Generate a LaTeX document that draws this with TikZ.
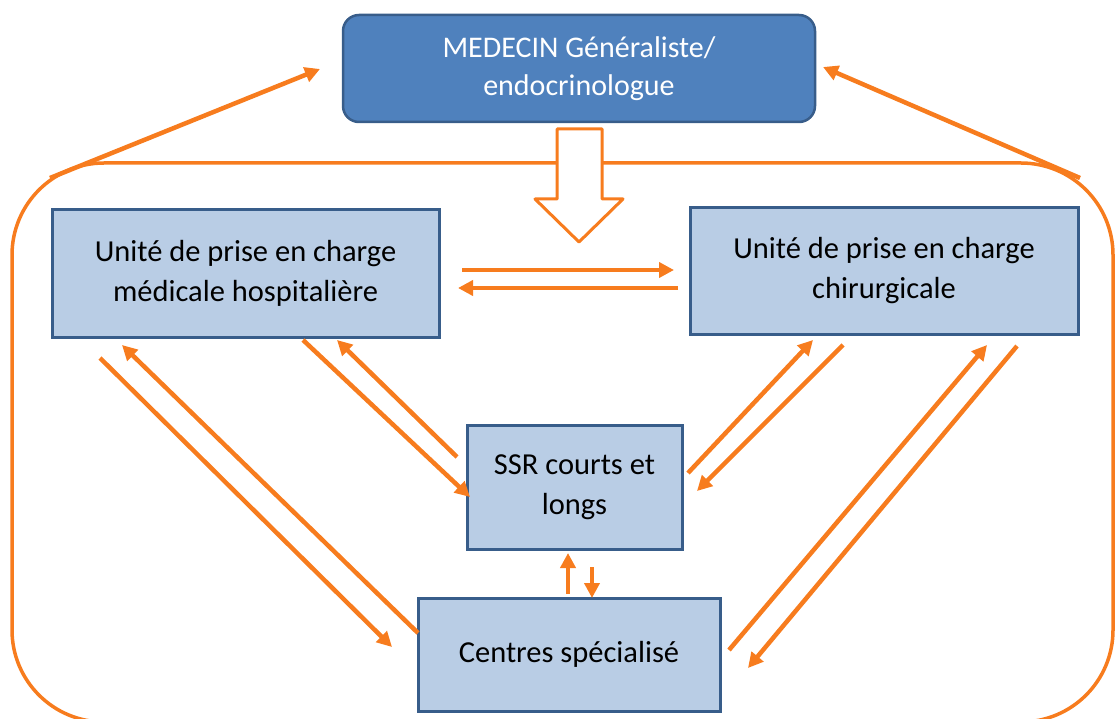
\documentclass[tikz,border=0pt]{standalone}
\usepackage{fontspec}
\setmainfont{Carlito}
\usetikzlibrary{arrows.meta}
\definecolor{flow}{RGB}{247,124,30}
\definecolor{boxfill}{RGB}{185,205,229}
\definecolor{boxline}{RGB}{56,93,138}
\definecolor{headfill}{RGB}{79,129,189}
\begin{document}
\begin{tikzpicture}[x=1pt,y=-1pt,
  unit/.style={draw=boxline,line width=3pt,fill=boxfill,align=center,
    font=\fontsize{30.5}{40}\selectfont,inner sep=0pt},
  head/.style={draw=boxline,line width=2.5pt,fill=headfill,rounded corners=16pt,
    align=center,text=white,font=\fontsize{30}{38}\selectfont,inner sep=0pt},
  link/.style={draw=flow,line width=4.5pt,-{Triangle[length=15pt,width=15pt]}},
  frame/.style={draw=flow,line width=3.5pt}]
\useasboundingbox (0,0) rectangle (1115,719);
\clip (0,0) rectangle (1115,719);

% outer care circuit
\draw[frame,rounded corners=92pt] (12,163) rectangle (1113,722);

% boxes
\node[head,minimum width=472pt,minimum height=107pt] (med) at (579,68.5)
  {MEDECIN Généraliste/\\endocrinologue};
\node[unit,minimum width=387pt,minimum height=127pt] (hosp) at (245.5,273.5)
  {Unité de prise en charge\\médicale hospitalière};
\node[unit,minimum width=388pt,minimum height=126pt] (chir) at (884,271)
  {Unité de prise en charge\\chirurgicale};
\node[unit,minimum width=215pt,minimum height=124pt] (ssr) at (574.5,487)
  {SSR courts et\\longs};
\node[unit,minimum width=302pt,minimum height=113pt] (ctr) at (569,654.5)
  {Centres spécialisé};

% hollow arrow from the physician into the circuit
\draw[draw=flow,line width=3pt,fill=white,line join=round]
  (557,129) -- (602,129) -- (602,199) -- (623,199) -- (579,242)
  -- (535,199) -- (557,199) -- cycle;

% connector end points
\coordinate (tl) at (50,178);
\coordinate (tr) at (1080,178);
\coordinate (medL) at (320,69);
\coordinate (medR) at (823,67);
\coordinate (h2c) at (462,270);
\coordinate (c2hT) at (674,270);
\coordinate (c2h) at (678,288);
\coordinate (h2cT) at (458,288);
\coordinate (hA) at (100,358);
\coordinate (ctrA) at (392,647);
\coordinate (ctrB) at (418,633);
\coordinate (hB) at (122,345);
\coordinate (hC) at (303,340);
\coordinate (ssrC) at (470,497);
\coordinate (ssrD) at (457,457);
\coordinate (hD) at (337,340);
\coordinate (ssrE) at (688,473);
\coordinate (chE) at (813,340);
\coordinate (chF) at (843,345);
\coordinate (ssrF) at (697,491);
\coordinate (ctrG) at (729,650);
\coordinate (chG) at (987,345);
\coordinate (chH) at (1017,346);
\coordinate (ctrH) at (748,668);
\coordinate (upS) at (568,594);
\coordinate (upT) at (568,553);
\coordinate (dnS) at (592,567);
\coordinate (dnT) at (592,598);

% connectors
\draw[link] (tl) -- (medL);
\draw[link] (tr) -- (medR);
\draw[link] (h2c) -- (c2hT);
\draw[link] (c2h) -- (h2cT);
\draw[link] (hA) -- (ctrA);
\draw[link] (ctrB) -- (hB);
\draw[link] (hC) -- (ssrC);
\draw[link] (ssrD) -- (hD);
\draw[link] (ssrE) -- (chE);
\draw[link] (chF) -- (ssrF);
\draw[link] (ctrG) -- (chG);
\draw[link] (chH) -- (ctrH);
\draw[link] (upS) -- (upT);
\draw[link] (dnS) -- (dnT);
\end{tikzpicture}
\end{document}
